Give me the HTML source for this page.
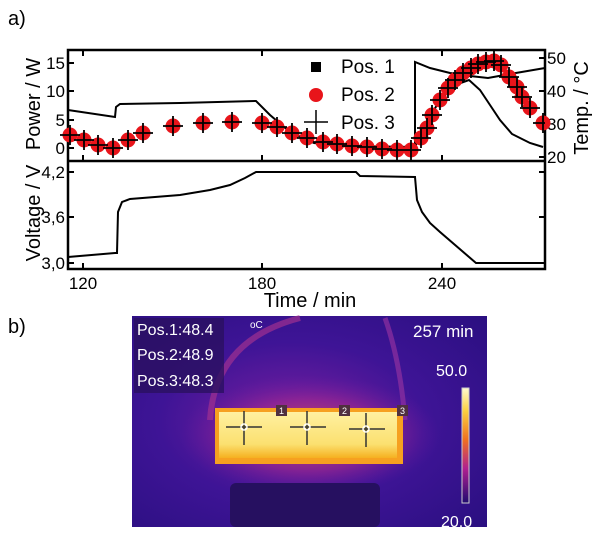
<!DOCTYPE html>
<html><head><meta charset="utf-8"><style>
body{margin:0;background:#fff;}
svg{display:block;font-family:"Liberation Sans",Arial,sans-serif;}
</style></head><body>
<svg width="600" height="537" viewBox="0 0 600 537">
<defs>
<radialGradient id="bg" cx="0.45" cy="0.5" r="0.75">
<stop offset="0" stop-color="#7a1fa0"/><stop offset="0.5" stop-color="#3e1496"/><stop offset="1" stop-color="#2a0f80"/>
</radialGradient>
<radialGradient id="glow" cx="0.5" cy="0.5" r="0.5">
<stop offset="0" stop-color="#e06040" stop-opacity="0.95"/><stop offset="0.6" stop-color="#a02890" stop-opacity="0.6"/><stop offset="1" stop-color="#6a1aa0" stop-opacity="0"/>
</radialGradient>
<linearGradient id="bat" x1="0" y1="0" x2="0" y2="1">
<stop offset="0" stop-color="#fff0a0"/><stop offset="0.7" stop-color="#fbe070"/><stop offset="1" stop-color="#f5b020"/>
</linearGradient>
<linearGradient id="cb" x1="0" y1="0" x2="0" y2="1">
<stop offset="0" stop-color="#fffad0"/><stop offset="0.2" stop-color="#fbd040"/><stop offset="0.45" stop-color="#f07020"/><stop offset="0.7" stop-color="#b02090"/><stop offset="1" stop-color="#200a70"/>
</linearGradient>
</defs>
<text x="8" y="25" font-size="20">a)</text>
<text x="8" y="333" font-size="20">b)</text>
<rect x="68" y="50" width="477" height="219" fill="none" stroke="#000" stroke-width="2.5"/>
<line x1="68" y1="161" x2="545" y2="161" stroke="#000" stroke-width="2.5"/>
<g stroke="#000" stroke-width="2">
<line x1="68" y1="63" x2="74" y2="63"/><line x1="68" y1="91" x2="74" y2="91"/><line x1="68" y1="120" x2="74" y2="120"/><line x1="68" y1="148" x2="74" y2="148"/>
<line x1="545" y1="58" x2="539" y2="58"/><line x1="545" y1="91" x2="539" y2="91"/><line x1="545" y1="124" x2="539" y2="124"/><line x1="545" y1="157" x2="539" y2="157"/>
<line x1="68" y1="172" x2="74" y2="172"/><line x1="68" y1="217" x2="74" y2="217"/><line x1="68" y1="263" x2="74" y2="263"/>
<line x1="545" y1="172" x2="539" y2="172"/><line x1="545" y1="217" x2="539" y2="217"/><line x1="545" y1="263" x2="539" y2="263"/>
<line x1="83" y1="269" x2="83" y2="263"/><line x1="262" y1="269" x2="262" y2="263"/><line x1="442" y1="269" x2="442" y2="263"/>
<line x1="83" y1="161" x2="83" y2="155"/><line x1="262" y1="161" x2="262" y2="155"/><line x1="442" y1="161" x2="442" y2="155"/>
<line x1="83" y1="50" x2="83" y2="56"/><line x1="262" y1="50" x2="262" y2="56"/><line x1="442" y1="50" x2="442" y2="56"/>
</g>
<g font-size="17" text-anchor="end">
<text x="65" y="69">15</text><text x="65" y="97">10</text><text x="65" y="126">5</text><text x="65" y="154">0</text>
<text x="65" y="178">4,2</text><text x="65" y="223">3,6</text><text x="65" y="269">3,0</text>
</g>
<g font-size="17">
<text x="547" y="64">50</text><text x="547" y="97">40</text><text x="547" y="130">30</text><text x="547" y="163">20</text>
</g>
<g font-size="17" text-anchor="middle">
<text x="83" y="289">120</text><text x="262" y="289">180</text><text x="442" y="289">240</text>
</g>
<text x="310" y="307" font-size="20" text-anchor="middle">Time / min</text>
<text transform="translate(40,104) rotate(-90)" font-size="20" text-anchor="middle">Power / W</text>
<text transform="translate(40,213) rotate(-90)" font-size="20" text-anchor="middle">Voltage / V</text>
<text transform="translate(588,108) rotate(-90)" font-size="20" text-anchor="middle">Temp. / °C</text>
<g fill="none" stroke="#000" stroke-width="2">
<polyline points="68,110 115,117 116,107 120,104 180,103 256,101 270,115 290,132 314,143 340,146 415,147 415,62 430,68 450,73 470,76 488,78 510,74 545,68"/>
<polyline points="415,147 425,125 440,100 455,85 469,80 480,90 490,105 500,120 512,134 530,143 543,147"/>
<polyline points="68,257 115,253 117,253 118,212 122,202 130,199 180,195 210,190 230,185 245,178 256,172 356,172 360,176 415,177 417,200 422,212 430,223 440,232 476,263 545,263"/>
</g>
<g fill="#e8141a">
<circle cx="70" cy="135" r="7.5"/><circle cx="84" cy="140" r="7.5"/><circle cx="98" cy="145" r="7.5"/><circle cx="113" cy="148" r="7.5"/><circle cx="128" cy="140" r="7.5"/><circle cx="143" cy="133" r="7.5"/><circle cx="173" cy="126" r="7.5"/><circle cx="203" cy="123" r="7.5"/><circle cx="232" cy="122" r="7.5"/><circle cx="262" cy="123" r="7.5"/><circle cx="277" cy="127" r="7.5"/><circle cx="292" cy="133" r="7.5"/><circle cx="307" cy="138" r="7.5"/><circle cx="323" cy="142" r="7.5"/><circle cx="337" cy="144" r="7.5"/><circle cx="352" cy="146" r="7.5"/><circle cx="367" cy="147" r="7.5"/><circle cx="382" cy="149" r="7.5"/><circle cx="397" cy="150" r="7.5"/><circle cx="411" cy="150" r="7.5"/><circle cx="421" cy="138" r="7.5"/><circle cx="427" cy="128" r="7.5"/><circle cx="432" cy="115" r="7.5"/><circle cx="440" cy="100" r="7.5"/><circle cx="448" cy="88" r="7.5"/><circle cx="455" cy="80" r="7.5"/><circle cx="463" cy="73" r="7.5"/><circle cx="471" cy="68" r="7.5"/><circle cx="478" cy="64" r="7.5"/><circle cx="486" cy="62" r="7.5"/><circle cx="494" cy="61" r="7.5"/><circle cx="501" cy="65" r="7.5"/><circle cx="509" cy="77" r="7.5"/><circle cx="517" cy="87" r="7.5"/><circle cx="522" cy="97" r="7.5"/><circle cx="530" cy="108" r="7.5"/><circle cx="543" cy="123" r="7.5"/>
</g>
<g stroke="#000" stroke-width="1.8">
<path d="M60 135h20M70 125v20 M74 140h20M84 130v20 M88 145h20M98 135v20 M103 148h20M113 138v20 M118 140h20M128 130v20 M133 133h20M143 123v20 M163 126h20M173 116v20 M193 123h20M203 113v20 M222 122h20M232 112v20 M252 123h20M262 113v20 M267 127h20M277 117v20 M282 133h20M292 123v20 M297 138h20M307 128v20 M313 142h20M323 132v20 M327 144h20M337 134v20 M342 146h20M352 136v20 M357 147h20M367 137v20 M372 149h20M382 139v20 M387 150h20M397 140v20 M401 150h20M411 140v20 M411 138h20M421 128v20 M417 128h20M427 118v20 M422 115h20M432 105v20 M430 100h20M440 90v20 M438 88h20M448 78v20 M445 80h20M455 70v20 M453 73h20M463 63v20 M461 68h20M471 58v20 M468 64h20M478 54v20 M476 62h20M486 52v20 M484 61h20M494 51v20 M491 65h20M501 55v20 M499 77h20M509 67v20 M507 87h20M517 77v20 M512 97h20M522 87v20 M520 108h20M530 98v20 M533 123h12M543 113v20"/>
</g>
<rect x="311" y="62" width="10" height="10" fill="#000"/>
<circle cx="316" cy="95" r="7" fill="#e8141a"/>
<path d="M304 122h24M316 110v24" stroke="#000" stroke-width="1.5"/>
<g font-size="19"><text x="341" y="73">Pos. 1</text><text x="341" y="101">Pos. 2</text><text x="341" y="129">Pos. 3</text></g>
<rect x="132" y="316" width="355" height="211" fill="url(#bg)"/>
<ellipse cx="310" cy="435" rx="130" ry="60" fill="url(#glow)"/>
<path d="M210 420 Q215 340 300 318" stroke="#a03090" stroke-width="6" fill="none" opacity="0.7"/>
<path d="M385 318 Q400 360 405 420" stroke="#9030a0" stroke-width="5" fill="none" opacity="0.7"/>
<rect x="215" y="408" width="188" height="56" fill="#f6a020"/>
<rect x="219" y="412" width="178" height="46" fill="url(#bat)"/>
<rect x="230" y="483" width="150" height="44" rx="6" fill="#261060"/>
<rect x="134" y="318" width="90" height="75" fill="#2a1060" opacity="0.8"/>
<g fill="#fff" font-size="16"><text x="137" y="335">Pos.1:48.4</text><text x="137" y="360">Pos.2:48.9</text><text x="137" y="386">Pos.3:48.3</text>
<text x="413" y="337" font-size="17">257 min</text><text x="436" y="376" font-size="16">50.0</text><text x="441" y="527" font-size="16">20.0</text>
<text x="250" y="328" font-size="10">oC</text></g>
<rect x="462" y="388" width="7" height="115" fill="url(#cb)" stroke="#ccc" stroke-width="1"/>
<rect x="276" y="405" width="11" height="11" fill="#503040"/><rect x="339" y="405" width="11" height="11" fill="#503040"/><rect x="397" y="405" width="11" height="11" fill="#503040"/>
<g fill="#fff" font-size="9"><text x="279" y="414">1</text><text x="342" y="414">2</text><text x="400" y="414">3</text></g>
<g stroke="#333" stroke-width="1.5" fill="none">
<path d="M226 427h36M244 411v34"/><circle cx="244" cy="427" r="3" stroke="#fff"/>
<path d="M290 427h36M307 411v34"/><circle cx="307" cy="427" r="3" stroke="#fff"/>
<path d="M349 429h36M366 413v34"/><circle cx="366" cy="429" r="3" stroke="#fff"/>
</g>
</svg>
</body></html>
